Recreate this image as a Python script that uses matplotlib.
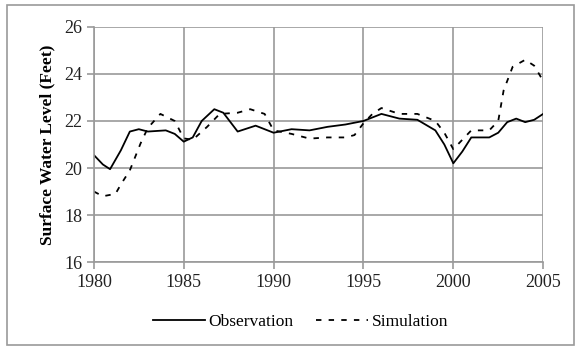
import matplotlib.pyplot as plt
from matplotlib.patches import Rectangle

plt.rcParams['font.family'] = ['Liberation Serif', 'DejaVu Serif']

# observed surface water level
obs_year = [1980, 1980.5, 1980.9, 1981.5, 1982, 1982.5, 1983, 1984, 1984.5, 1985,
            1985.5, 1986, 1986.7, 1987.2, 1988, 1989, 1990, 1991, 1992, 1993,
            1994, 1995, 1996, 1997, 1998, 1999, 1999.5, 2000, 2000.5, 2001,
            2002, 2002.5, 2003, 2003.5, 2004, 2004.5, 2005]
obs_level = [20.55, 20.15, 19.95, 20.75, 21.55, 21.65, 21.55, 21.6, 21.45, 21.12,
             21.3, 22.0, 22.5, 22.35, 21.55, 21.8, 21.5, 21.65, 21.6, 21.75,
             21.85, 22.0, 22.3, 22.1, 22.05, 21.6, 21.0, 20.2, 20.7, 21.3,
             21.3, 21.5, 21.95, 22.1, 21.95, 22.05, 22.3]

# simulated surface water level
sim_year = [1980, 1980.5, 1981.2, 1981.5, 1982, 1982.6, 1983, 1983.7, 1984.5, 1985,
            1985.5, 1986.3, 1987, 1988, 1988.7, 1989.5, 1990, 1991, 1992, 1993,
            1994, 1994.5, 1995, 1995.5, 1996, 1997, 1998, 1999, 1999.5, 2000,
            2000.5, 2001, 2002, 2002.5, 2002.8, 2003.3, 2004, 2004.5, 2005]
sim_level = [19.0, 18.8, 18.9, 19.3, 19.9, 21.05, 21.7, 22.3, 22.0, 21.26,
             21.2, 21.75, 22.3, 22.35, 22.5, 22.3, 21.6, 21.45, 21.25, 21.3,
             21.3, 21.4, 21.9, 22.3, 22.55, 22.3, 22.3, 22.0, 21.5, 20.8,
             21.2, 21.6, 21.6, 22.0, 23.3, 24.3, 24.6, 24.35, 23.7]

fig = plt.figure(figsize=(5.76, 3.49), dpi=100)
fig.patches.append(Rectangle((0.012, 0.012), 0.985, 0.975, transform=fig.transFigure,
                             fill=False, edgecolor='#9a9a9a', linewidth=1.2))

ax = fig.add_axes([0.163, 0.249, 0.78, 0.674])
ax.plot(obs_year, obs_level, color='black', linewidth=1.3, label='Observation')
ax.plot(sim_year, sim_level, color='black', linewidth=1.3, linestyle=(0, (3, 4)),
        label='Simulation')

ax.set_xlim(1980, 2005)
ax.set_ylim(16, 26)
ax.set_xticks(range(1980, 2006, 5))
ax.set_yticks(range(16, 27, 2))
ax.grid(True, color='#9a9a9a', linewidth=1.2)
ax.set_axisbelow(True)
for side in ['left', 'bottom', 'right', 'top']:
    ax.spines[side].set_color('#9a9a9a')
    ax.spines[side].set_linewidth(1.2)
ax.spines['top'].set_visible(False)
ax.spines['right'].set_visible(False)
ax.tick_params(direction='out', length=5, width=1.2, color='#9a9a9a',
               labelsize=13, labelcolor='#222222')
ax.set_ylabel('Surface Water Level (Feet)', fontsize=12.5, fontweight='bold', labelpad=6)

ax.legend(loc='upper center', bbox_to_anchor=(0.46, -0.155), ncol=2, frameon=False,
          fontsize=12.5, handlelength=3.0, handletextpad=0.2, columnspacing=1.3)

fig.savefig('out.png', dpi=100)
